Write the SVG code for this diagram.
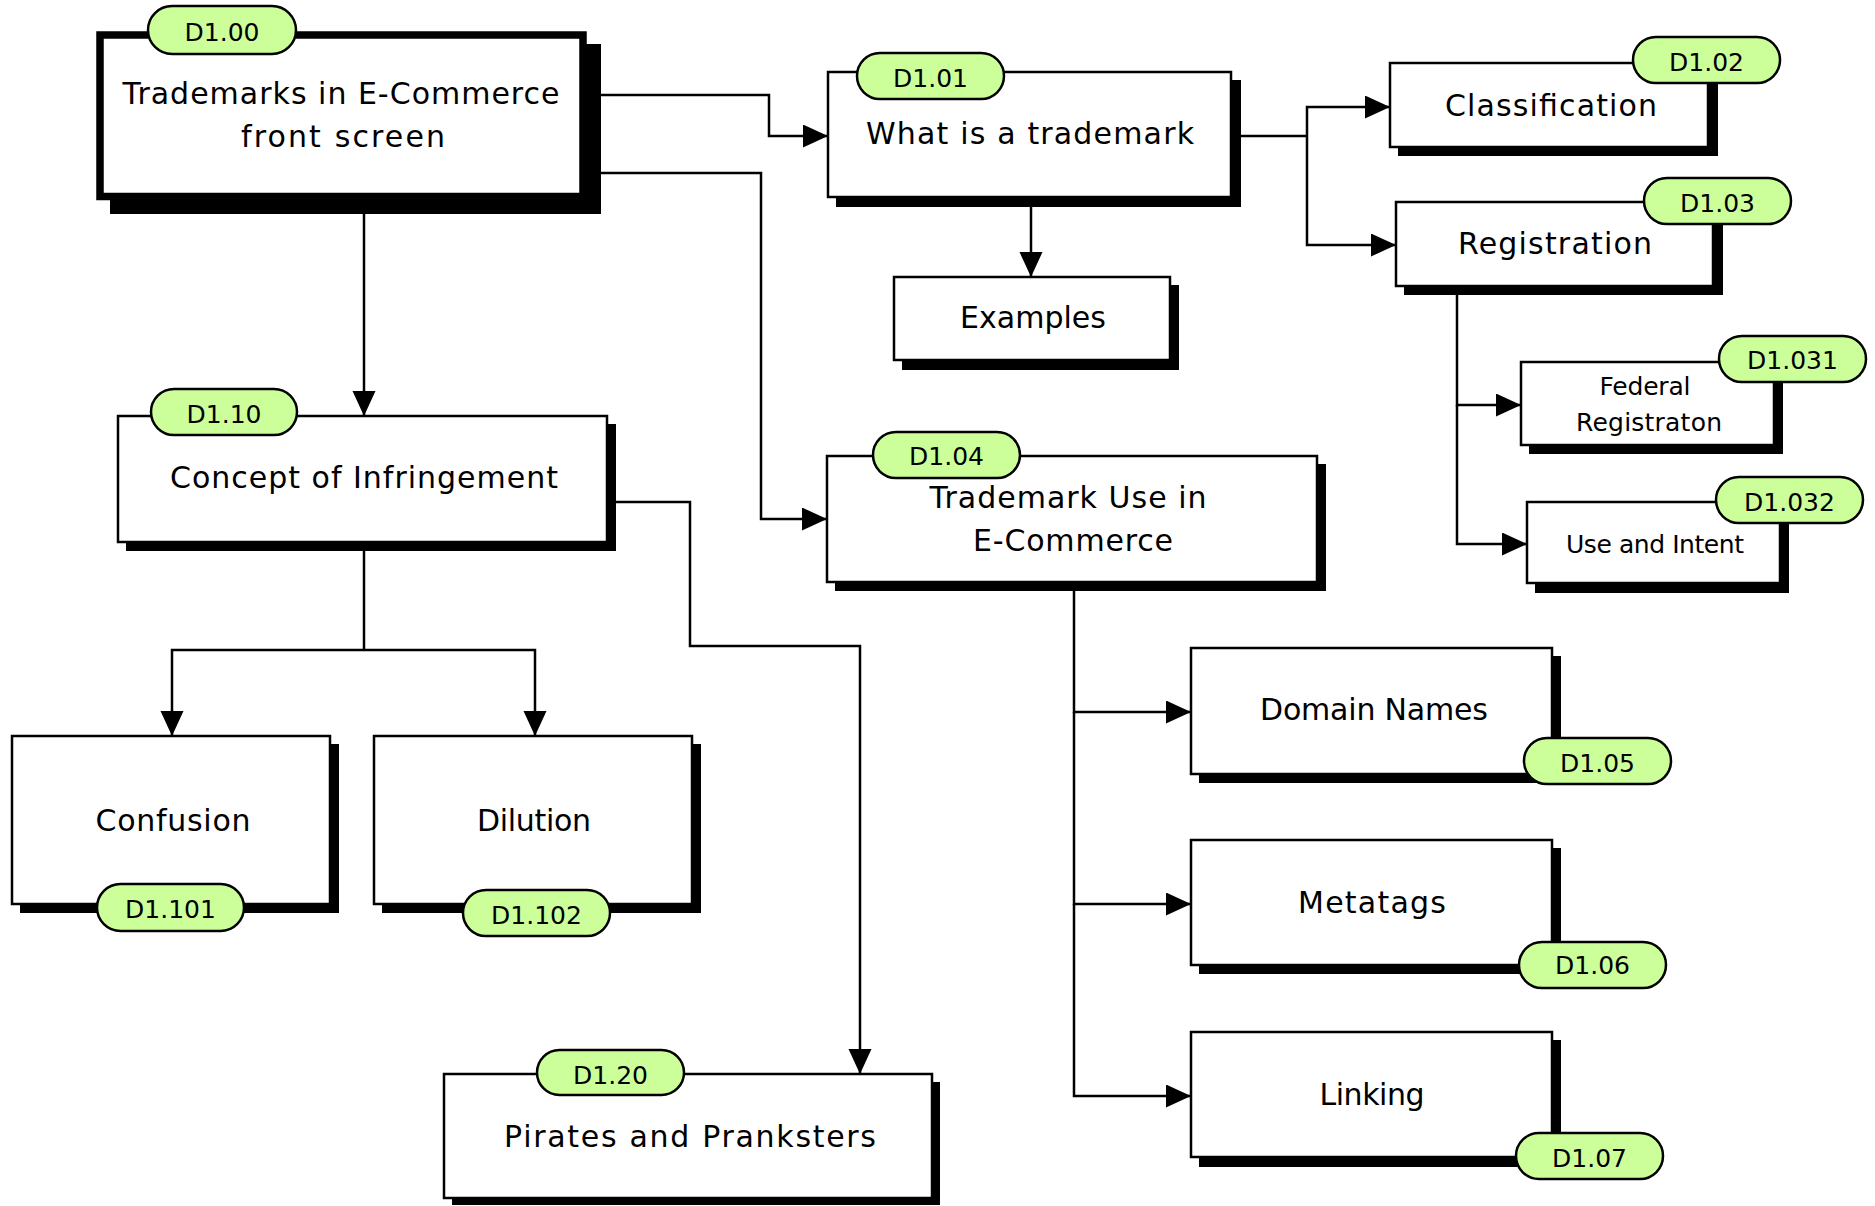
<svg xmlns="http://www.w3.org/2000/svg" width="1875" height="1206" viewBox="0 0 1875 1206">
<defs>
<style>
.sh{fill:#000}
.bx{fill:#fff;stroke:#000;stroke-width:2.5}
.bxm{fill:#fff;stroke:#000;stroke-width:7.5}
.pill{fill:#ccff99;stroke:#000;stroke-width:2.5}
.t{font-family:"DejaVu Sans","Liberation Sans",sans-serif;font-size:30px;text-anchor:middle;fill:#000}
.s{font-size:25px}
.c{fill:none;stroke:#000;stroke-width:2.5}
.a{marker-end:url(#ah)}
</style>
<marker id="ah" markerUnits="userSpaceOnUse" markerWidth="26" markerHeight="24" refX="25" refY="11.5" orient="auto" viewBox="0 0 26 24">
<path d="M0,0 L25,11.5 L0,23 z" fill="#000"/>
</marker>
</defs>
<rect width="1875" height="1206" fill="#fff"/>

<g id="connectors">
<polyline class="c a" points="601,95 769,95 769,136 828,136"/>
<polyline class="c a" points="601,173 761,173 761,519 827,519"/>
<polyline class="c a" points="364,214 364,416"/>
<polyline class="c a" points="1031,207 1031,277"/>
<polyline class="c" points="1241,136 1307,136"/>
<polyline class="c a" points="1307,136 1307,107 1390,107"/>
<polyline class="c a" points="1307,136 1307,245 1396,245"/>
<polyline class="c a" points="1457,295 1457,405 1521,405"/>
<polyline class="c a" points="1457,405 1457,544 1527,544"/>
<polyline class="c a" points="1074,591 1074,712 1191,712"/>
<polyline class="c a" points="1074,712 1074,904 1191,904"/>
<polyline class="c a" points="1074,904 1074,1096 1191,1096"/>
<polyline class="c" points="364,551 364,650"/>
<polyline class="c a" points="364,650 172,650 172,736"/>
<polyline class="c a" points="364,650 535,650 535,736"/>
<polyline class="c a" points="616,502 690,502 690,646 860,646 860,1074"/>
</g>

<g id="n-d100">
<rect class="sh" x="110" y="44" width="491" height="170"/>
<rect class="bxm" x="100" y="35" width="483" height="161.5"/>
<rect class="pill" x="148" y="6" width="148" height="48" rx="24"/>
<text class="t s" x="222" y="41">D1.00</text>
<text class="t" x="341" y="104" textLength="437" lengthAdjust="spacing">Trademarks in E-Commerce</text>
<text class="t" x="343" y="147" textLength="204" lengthAdjust="spacing">front screen</text>
</g>

<g id="n-d101">
<rect class="sh" x="836" y="80" width="405" height="127"/>
<rect class="bx" x="828" y="72" width="403" height="125"/>
<rect class="pill" x="857" y="53" width="147" height="46" rx="23"/>
<text class="t s" x="930.5" y="87">D1.01</text>
<text class="t" x="1030" y="144" textLength="328" lengthAdjust="spacing">What is a trademark</text>
</g>

<g id="n-examples">
<rect class="sh" x="902" y="285" width="277" height="85"/>
<rect class="bx" x="894" y="277" width="276" height="83"/>
<text class="t" x="1033" y="328" textLength="146" lengthAdjust="spacing">Examples</text>
</g>

<g id="n-d102">
<rect class="sh" x="1398" y="71" width="320" height="85"/>
<rect class="bx" x="1390" y="63" width="318" height="84"/>
<rect class="pill" x="1633" y="37" width="147" height="46" rx="23"/>
<text class="t s" x="1706.5" y="71">D1.02</text>
<text class="t" x="1551" y="116" textLength="212" lengthAdjust="spacing">Classification</text>
</g>

<g id="n-d103">
<rect class="sh" x="1404" y="210" width="319" height="85"/>
<rect class="bx" x="1396" y="202" width="317" height="84"/>
<rect class="pill" x="1644" y="178" width="147" height="46" rx="23"/>
<text class="t s" x="1717.5" y="212">D1.03</text>
<text class="t" x="1555" y="254" textLength="194" lengthAdjust="spacing">Registration</text>
</g>

<g id="n-d1031">
<rect class="sh" x="1529" y="370" width="254" height="84"/>
<rect class="bx" x="1521" y="362" width="253" height="83"/>
<rect class="pill" x="1719" y="336" width="147" height="46" rx="23"/>
<text class="t s" x="1792.5" y="369">D1.031</text>
<text class="t s" x="1645" y="395" textLength="91" lengthAdjust="spacing">Federal</text>
<text class="t s" x="1649" y="431" textLength="146" lengthAdjust="spacing">Registraton</text>
</g>

<g id="n-d1032">
<rect class="sh" x="1535" y="510" width="254" height="83"/>
<rect class="bx" x="1527" y="502" width="253" height="81"/>
<rect class="pill" x="1716" y="477" width="147" height="46" rx="23"/>
<text class="t s" x="1789.5" y="511">D1.032</text>
<text class="t s" x="1655" y="553" textLength="178" lengthAdjust="spacing">Use and Intent</text>
</g>

<g id="n-d104">
<rect class="sh" x="835" y="464" width="491" height="127"/>
<rect class="bx" x="827" y="456" width="490" height="126"/>
<rect class="pill" x="873" y="432" width="147" height="46" rx="23"/>
<text class="t s" x="946.5" y="465">D1.04</text>
<text class="t" x="1068" y="508" textLength="277" lengthAdjust="spacing">Trademark Use in</text>
<text class="t" x="1073" y="551" textLength="200" lengthAdjust="spacing">E-Commerce</text>
</g>

<g id="n-d105">
<rect class="sh" x="1199" y="656" width="362" height="127"/>
<rect class="bx" x="1191" y="648" width="361" height="126"/>
<rect class="pill" x="1524" y="738" width="147" height="46" rx="23"/>
<text class="t s" x="1597.5" y="772">D1.05</text>
<text class="t" x="1374" y="720" textLength="228" lengthAdjust="spacing">Domain Names</text>
</g>

<g id="n-d106">
<rect class="sh" x="1199" y="848" width="362" height="126"/>
<rect class="bx" x="1191" y="840" width="361" height="125"/>
<rect class="pill" x="1519" y="942" width="147" height="46" rx="23"/>
<text class="t s" x="1592.5" y="974">D1.06</text>
<text class="t" x="1372" y="913" textLength="148" lengthAdjust="spacing">Metatags</text>
</g>

<g id="n-d107">
<rect class="sh" x="1199" y="1040" width="362" height="127"/>
<rect class="bx" x="1191" y="1032" width="361" height="125"/>
<rect class="pill" x="1516" y="1133" width="147" height="46" rx="23"/>
<text class="t s" x="1589.5" y="1167">D1.07</text>
<text class="t" x="1372" y="1105" textLength="105" lengthAdjust="spacing">Linking</text>
</g>

<g id="n-d110">
<rect class="sh" x="126" y="424" width="490" height="127"/>
<rect class="bx" x="118" y="416" width="489" height="126"/>
<rect class="pill" x="151" y="389" width="146" height="46" rx="23"/>
<text class="t s" x="224" y="423">D1.10</text>
<text class="t" x="364" y="488" textLength="388" lengthAdjust="spacing">Concept of Infringement</text>
</g>

<g id="n-d1101">
<rect class="sh" x="20" y="744" width="319" height="169"/>
<rect class="bx" x="12" y="736" width="318" height="168"/>
<rect class="pill" x="97" y="884" width="147" height="47" rx="23.5"/>
<text class="t s" x="170.5" y="918">D1.101</text>
<text class="t" x="173" y="831" textLength="155" lengthAdjust="spacing">Confusion</text>
</g>

<g id="n-d1102">
<rect class="sh" x="382" y="744" width="319" height="169"/>
<rect class="bx" x="374" y="736" width="318" height="168"/>
<rect class="pill" x="463" y="890" width="147" height="46" rx="23"/>
<text class="t s" x="536.5" y="924">D1.102</text>
<text class="t" x="534" y="831" textLength="114" lengthAdjust="spacing">Dilution</text>
</g>

<g id="n-d120">
<rect class="sh" x="452" y="1082" width="488" height="123"/>
<rect class="bx" x="444" y="1074" width="488" height="124"/>
<rect class="pill" x="537" y="1050" width="147" height="45" rx="22.5"/>
<text class="t s" x="610.5" y="1084">D1.20</text>
<text class="t" x="690" y="1147" textLength="372" lengthAdjust="spacing">Pirates and Pranksters</text>
</g>
</svg>
